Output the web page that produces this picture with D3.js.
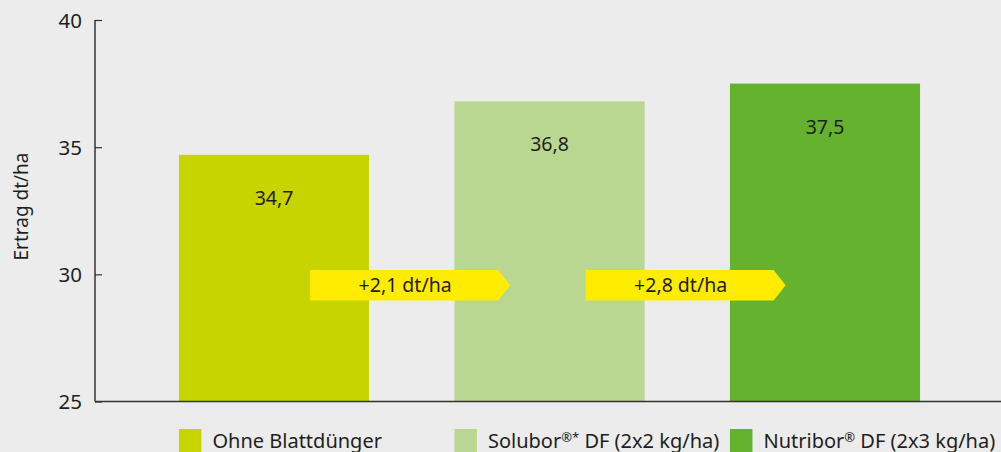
<!DOCTYPE html>
<html><head><meta charset="utf-8">
<script src="https://cdn.jsdelivr.net/npm/d3@7"></script>
<style>
html,body{margin:0;padding:0;background:#ececec;}
svg{display:block;font-family:"Noto Sans",sans-serif;}
</style></head>
<body>
<svg id="c" width="1001" height="452"></svg>
<script>
const categories = ["Ohne Blattdünger", "Solubor®* DF (2x2 kg/ha)", "Nutribor® DF (2x3 kg/ha)"];
const values = [34.7, 36.8, 37.5];
const valueLabels = ["34,7", "36,8", "37,5"];
const colors = ["#c8d400", "#b9d790", "#64b22e"];
const yTicks = [25, 30, 35, 40];
const diffLabels = ["+2,1 dt/ha", "+2,8 dt/ha"];
const yTitle = "Ertrag dt/ha";

const svg = d3.select("#c");
const x = d3.scaleBand().domain(categories).range([136.25, 962.75]).paddingInner(0.31).paddingOuter(0.155);
const y = d3.scaleLinear().domain([25, 40]).range([401.5, 20]);
const ink = "#1e1e1e";

// bars
svg.selectAll("rect.bar").data(values).join("rect")
  .attr("x", (d,i) => x(categories[i]))
  .attr("y", d => y(d))
  .attr("width", x.bandwidth())
  .attr("height", d => y(25) - y(d))
  .attr("fill", (d,i) => colors[i]);

// value labels
svg.selectAll("text.val").data(values).join("text")
  .attr("x", (d,i) => x(categories[i]) + x.bandwidth()/2)
  .attr("y", d => y(d) + 50)
  .attr("text-anchor", "middle")
  .attr("font-size", 19.5)
  .attr("fill", ink)
  .text((d,i) => valueLabels[i]);

// arrows
const aw = 188, tip = 12, ay0 = 270, ay1 = 300.5;
diffLabels.forEach((lab, i) => {
  const x0 = x(categories[i]) + x.bandwidth()*0.69;
  svg.append("path")
    .attr("d", `M${x0},${ay0}H${x0+aw}L${x0+aw+tip},${(ay0+ay1)/2}L${x0+aw},${ay1}H${x0}Z`)
    .attr("fill", "#ffec00");
  svg.append("text")
    .attr("x", x0 + (aw+tip)/2 - 5)
    .attr("y", (ay0+ay1)/2 + 7)
    .attr("text-anchor", "middle")
    .attr("font-size", 19.5)
    .attr("fill", ink)
    .text(lab);
});

// y axis
const yAxis = svg.append("g").attr("transform", "translate(95,0)")
  .call(d3.axisRight(y).tickValues(yTicks).tickSize(7).tickFormat(d3.format("d")));
yAxis.select(".domain").attr("stroke", "#333").attr("stroke-width", 1.5).attr("d", `M0,${y(40)}V${y(25)}`);
yAxis.selectAll(".tick line").attr("stroke", "#333").attr("stroke-width", 1.2);
yAxis.selectAll(".tick text").attr("x", -13).attr("text-anchor", "end")
  .attr("font-size", 20.5).attr("font-family", "Noto Sans").attr("fill", ink).attr("dy", "0.35em");

// x baseline
svg.append("line").attr("x1", 95).attr("x2", 1001).attr("y1", y(25)).attr("y2", y(25))
  .attr("stroke", "#333").attr("stroke-width", 1.5);

// y title
svg.append("text")
  .attr("transform", `translate(27.5,${(150+263)/2}) rotate(-90)`)
  .attr("text-anchor", "middle")
  .attr("font-size", 19)
  .attr("fill", ink)
  .text(yTitle);

// legend
const lg = svg.selectAll("g.lg").data(categories).join("g")
  .attr("transform", d => `translate(${x(d)},429)`);
lg.append("rect").attr("width", 22.5).attr("height", 30).attr("fill", (d,i) => colors[i]);
const lt = lg.append("text").attr("x", 33.5).attr("y", 18.5).attr("font-size", 20).attr("fill", ink);
lt.each(function(d) {
  const t = d3.select(this);
  let shift = 0;
  d.split(/(®\*?)/).forEach(part => {
    if (!part) return;
    if (part.startsWith("®")) {
      t.append("tspan").attr("font-size", 13).attr("dy", -6).text(part);
      shift = 6;
    } else {
      t.append("tspan").attr("dy", shift).text(part);
      shift = 0;
    }
  });
});
</script>
</body></html>
